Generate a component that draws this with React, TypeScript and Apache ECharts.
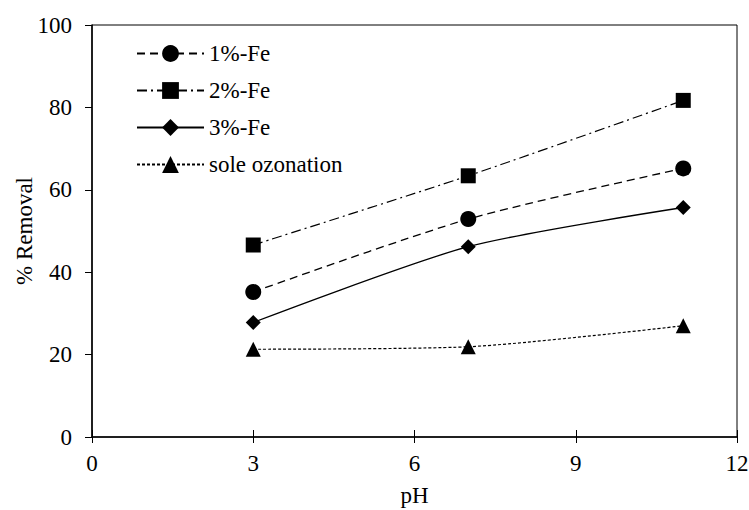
import React, { useEffect, useRef } from "react";
import * as echarts from "echarts";

const phValues = [3, 7, 11];
const fe1 = [35.2, 52.9, 65.2];
const fe2 = [46.6, 63.4, 81.7];
const fe3 = [27.8, 46.2, 55.7];
const sole = [21.3, 21.9, 27.0];
const seriesNames = ["1%-Fe", "2%-Fe", "3%-Fe", "sole ozonation"];
const xTicks = { min: 0, max: 12, interval: 3 };
const yTicks = { min: 0, max: 100, interval: 20 };

const FONT = "Liberation Serif";

export default function App() {
  const ref = useRef<HTMLDivElement>(null);
  useEffect(() => {
    if (!ref.current) return;
    const chart = echarts.init(ref.current, null, { renderer: "svg" });
    const pairs = (ys: number[]) => phValues.map((x, i) => [x, ys[i]]);
    const common = {
      type: "line" as const,
      smooth: 0.25,
      symbolKeepAspect: true,
      itemStyle: { color: "#000" },
    };
    chart.setOption({
      animation: false,
      backgroundColor: "#fff",
      textStyle: { fontFamily: FONT },
      grid: {
        left: 92,
        right: 12,
        top: 25,
        bottom: 73,
        containLabel: false,
        outerBoundsMode: "none",
        show: true,
        borderColor: "#000",
        borderWidth: 1,
      },
      legend: {
        orient: "vertical",
        left: 131,
        top: 37,
        itemWidth: 67,
        itemHeight: 21,
        itemGap: 14,
        data: seriesNames,
        textStyle: {
          fontFamily: FONT,
          fontSize: 23,
          color: "#000",
        },
      },
      xAxis: [
        {
          type: "value",
          ...xTicks,
          name: "pH",
          nameLocation: "middle",
          nameGap: 47,
          nameMoveOverlap: false,
          nameTextStyle: { fontFamily: FONT, fontSize: 23, color: "#000" },
          axisLine: { show: true, onZero: false, lineStyle: { color: "#000", width: 1.5 } },
          axisTick: { show: true, length: 6, lineStyle: { color: "#000" } },
          axisLabel: { fontFamily: FONT, fontSize: 23, color: "#000", margin: 15 },
          splitLine: { show: false },
        },
        {
          type: "value",
          ...xTicks,
          position: "bottom",
          axisLine: { show: false, onZero: false },
          axisTick: { show: true, inside: true, length: 7, lineStyle: { color: "#000" } },
          axisLabel: { show: false },
          splitLine: { show: false },
        },
      ],
      yAxis: {
        type: "value",
        ...yTicks,
        name: "% Removal",
        nameLocation: "middle",
        nameGap: 56,
        nameMoveOverlap: false,
        nameTextStyle: { fontFamily: FONT, fontSize: 23, color: "#000" },
        axisLine: { show: true, lineStyle: { color: "#000", width: 1.5 } },
        axisTick: { show: true, length: 7, lineStyle: { color: "#000" } },
        axisLabel: { fontFamily: FONT, fontSize: 23, color: "#000", margin: 20 },
        splitLine: { show: false },
      },
      series: [
        {
          ...common,
          name: seriesNames[0],
          data: pairs(fe1),
          symbol: "circle",
          symbolSize: 16,
          lineStyle: { color: "#000", width: 1.3, type: [8, 5] },
        },
        {
          ...common,
          name: seriesNames[1],
          data: pairs(fe2),
          symbol: "rect",
          symbolSize: 15,
          lineStyle: { color: "#000", width: 1.2, type: [10, 4, 2, 4] },
        },
        {
          ...common,
          name: seriesNames[2],
          data: pairs(fe3),
          symbol: "diamond",
          symbolSize: 15,
          lineStyle: { color: "#000", width: 1.3, type: "solid" },
        },
        {
          ...common,
          name: seriesNames[3],
          data: pairs(sole),
          symbol: "triangle",
          symbolSize: 15,
          lineStyle: { color: "#000", width: 1.2, type: [3, 2] },
        },
      ],
    });
    return () => chart.dispose();
  }, []);
  return (
    <div
      ref={ref}
      style={{ position: "fixed", left: 0, top: 0, width: 749, height: 510 }}
    />
  );
}
